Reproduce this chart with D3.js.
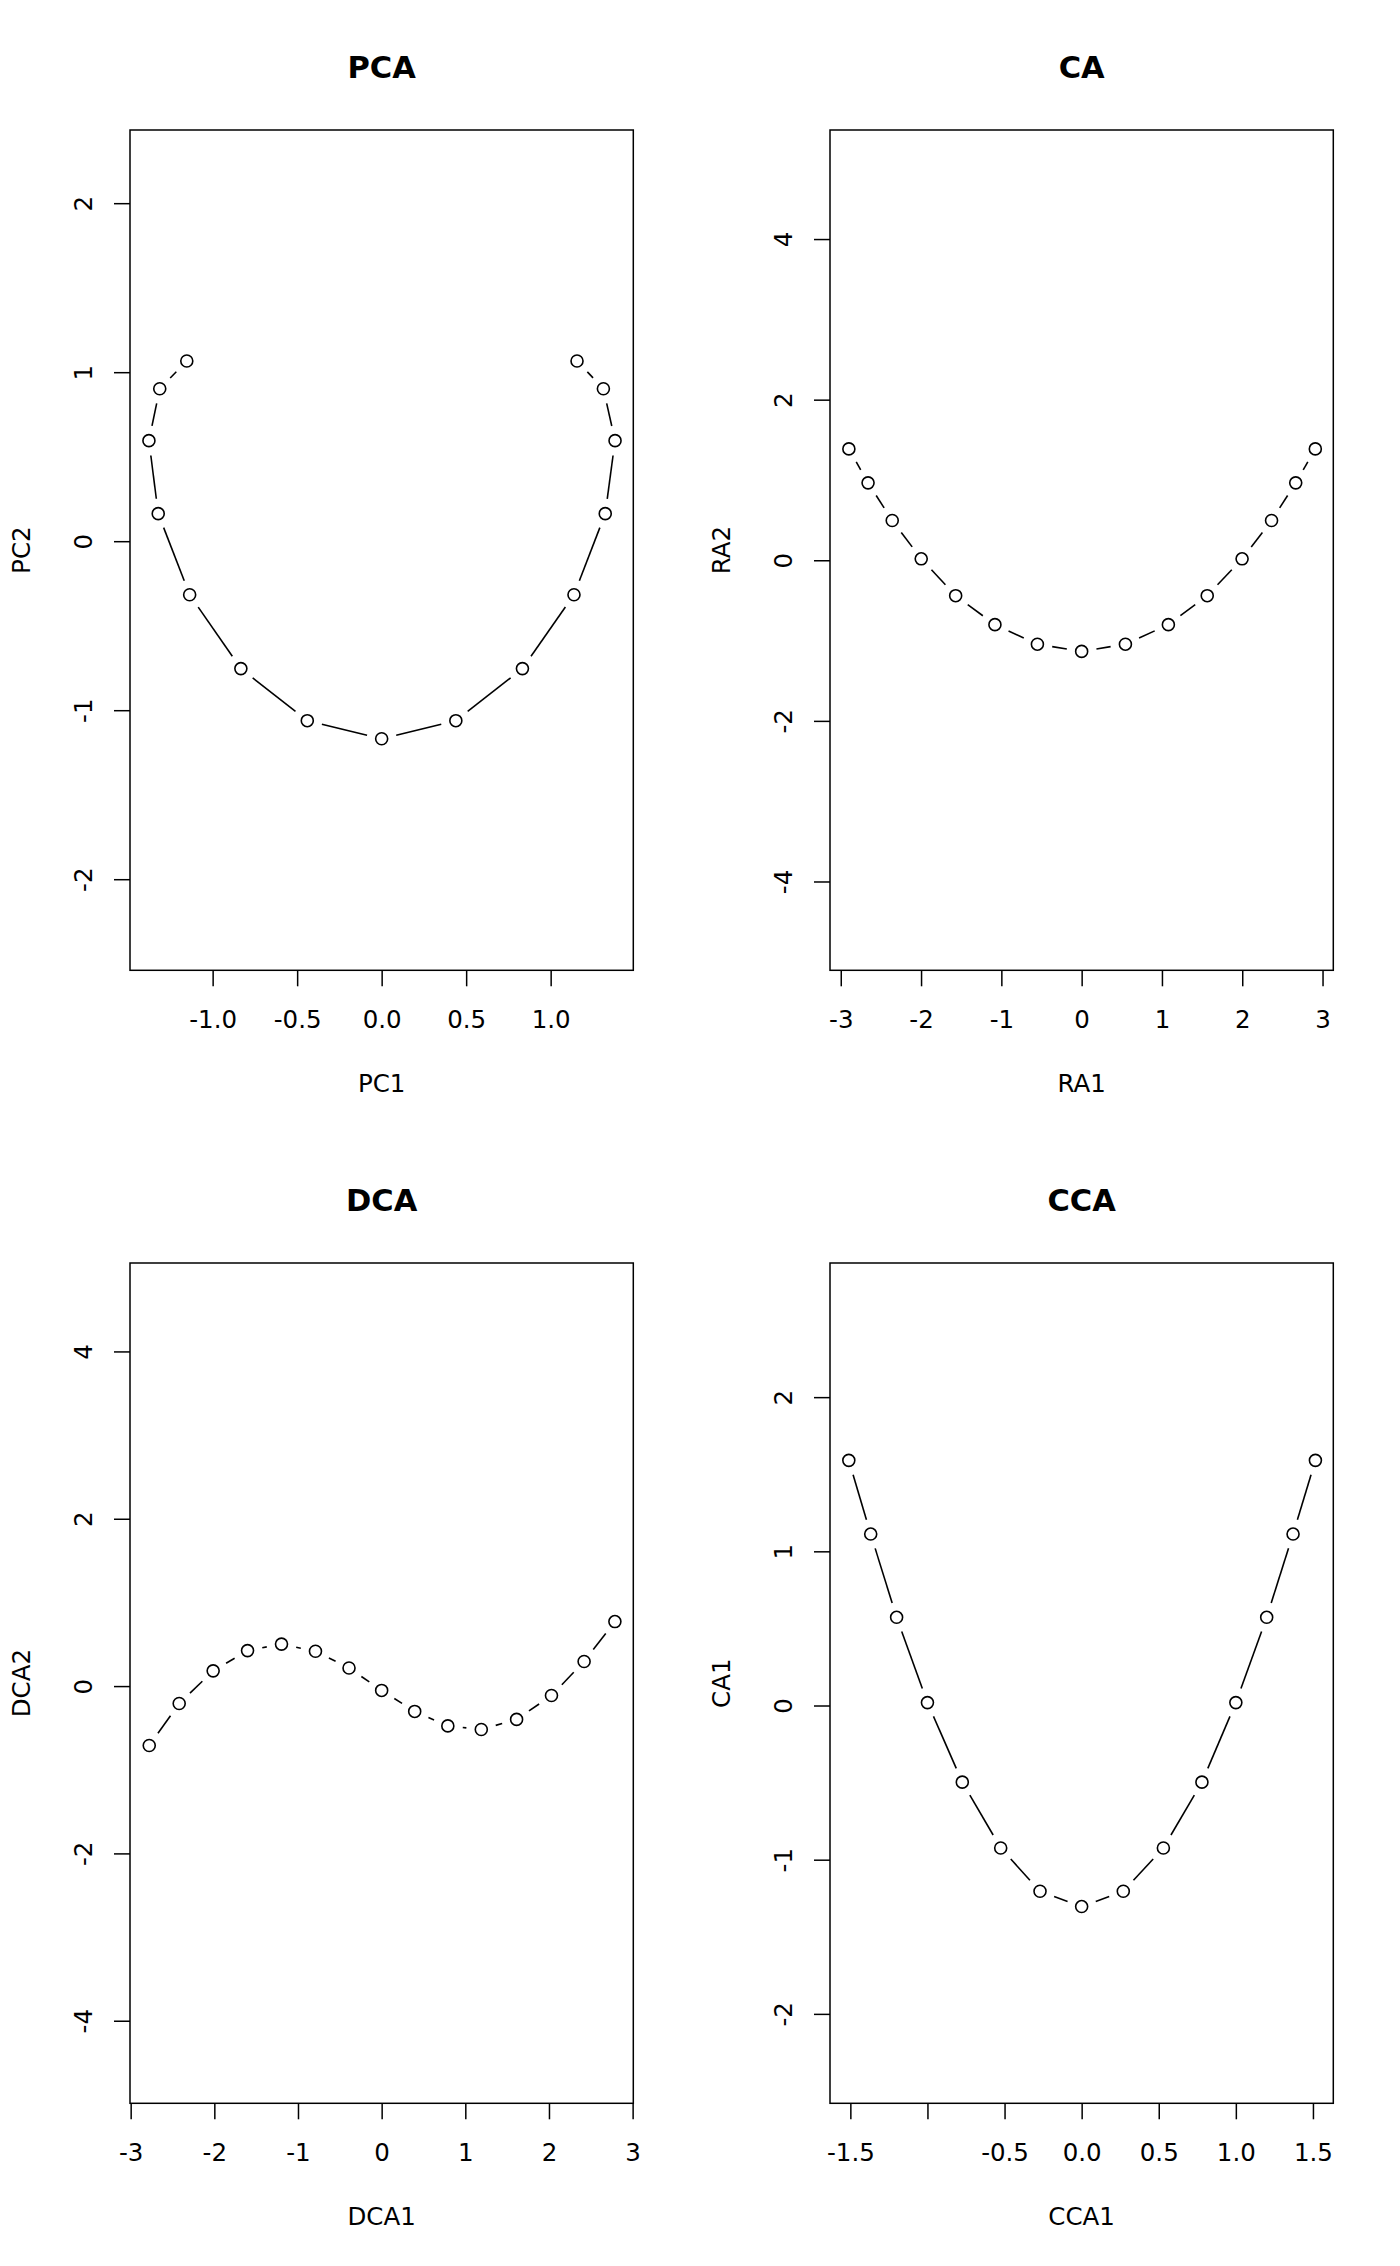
<!DOCTYPE html>
<html>
<head>
<meta charset="utf-8">
<script src="https://cdn.jsdelivr.net/npm/d3@7"></script>
<style>
  body { margin: 0; background: #fff; }
  text { font-family: "DejaVu Sans", sans-serif; fill: #000; }
</style>
</head>
<body>
<div id="chart"></div>
<script>
/* Ordination scores
 * */
var pcaX = [-1.153, -1.313, -1.377, -1.322, -1.136, -0.833, -0.440, 0, 0.439, 0.833, 1.138, 1.323, 1.381, 1.312, 1.156];
var pcaY = [1.066, 0.902, 0.595, 0.163, -0.317, -0.754, -1.062, -1.169, -1.062, -0.754, -0.317, 0.163, 0.595, 0.902, 1.066];

var caX = [-2.899, -2.660, -2.359, -1.998, -1.569, -1.080, -0.551, 0, 0.545, 1.080, 1.564, 1.998, 2.365, 2.666, 2.910];
var caY = [1.387, 0.964, 0.495, 0.018, -0.441, -0.802, -1.045, -1.135, -1.045, -0.802, -0.441, 0.018, 0.495, 0.964, 1.387];

var dcaX = [-2.778, -2.420, -2.014, -1.603, -1.197, -0.791, -0.390, 0, 0.395, 0.791, 1.191, 1.613, 2.030, 2.420, 2.788];
var dcaY = [-0.710, -0.208, 0.182, 0.424, 0.502, 0.416, 0.216, -0.052, -0.303, -0.476, -0.519, -0.398, -0.113, 0.294, 0.771];

var ccaX = [-1.510, -1.368, -1.200, -1.000, -0.774, -0.525, -0.270, 0, 0.270, 0.530, 0.780, 1.000, 1.200, 1.371, 1.516];
var ccaY = [1.590, 1.112, 0.572, 0.019, -0.497, -0.924, -1.205, -1.304, -1.205, -0.924, -0.497, 0.019, 0.572, 1.112, 1.590];

/* Tick values and labels
 * */
var pcaXTicks = [-1.0, -0.5, 0.0, 0.5, 1.0];
var pcaXLabels = ['-1.0', '-0.5', '0.0', '0.5', '1.0'];
var pcaYTicks = [-2, -1, 0, 1, 2];

var caXTicks = [-3, -2, -1, 0, 1, 2, 3];
var caYTicks = [-4, -2, 0, 2, 4];

var dcaXTicks = [-3, -2, -1, 0, 1, 2, 3];
var dcaYTicks = [-4, -2, 0, 2, 4];

var ccaXTicks = [-1.5, -1.0, -0.5, 0.0, 0.5, 1.0, 1.5];
var ccaXLabels = ['-1.5', '', '-0.5', '0.0', '0.5', '1.0', '1.5'];
var ccaYTicks = [-2, -1, 0, 1, 2];

/* Panels: title, axis names, limits (equal aspect) and grid slot
 * */
var panels = [
  { title: 'PCA', xlab: 'PC1',  ylab: 'PC2', x: pcaX, y: pcaY,
    xdom: [-1.489, 1.489], ydom: [-2.539, 2.433],
    xticks: pcaXTicks, xlabels: pcaXLabels, yticks: pcaYTicks, col: 0, row: 0 },
  { title: 'CA',  xlab: 'RA1',  ylab: 'RA2', x: caX, y: caY,
    xdom: [-3.134, 3.134], ydom: [-5.106, 5.358],
    xticks: caXTicks, xlabels: null, yticks: caYTicks, col: 1, row: 0 },
  { title: 'DCA', xlab: 'DCA1', ylab: 'DCA2', x: dcaX, y: dcaY,
    xdom: [-3.008, 3.008], ydom: [-4.987, 5.057],
    xticks: dcaXTicks, xlabels: null, yticks: dcaYTicks, col: 0, row: 1 },
  { title: 'CCA', xlab: 'CCA1', ylab: 'CA1', x: ccaX, y: ccaY,
    xdom: [-1.632, 1.632], ydom: [-2.580, 2.870],
    xticks: ccaXTicks, xlabels: ccaXLabels, yticks: ccaYTicks, col: 1, row: 1 }
];

var svgWidth = 1400;
var svgHeight = 2266;
var cellW = 700;
var cellH = 1133;

// plot region inside each cell
var boxLeft = 130, boxRight = 633.3, boxTop = 130, boxBottom = 970.3;
var tickLen = 16;
var pointR = 6;
var lineGap = 15;
var fontSize = 24.5;

var svg = d3.select('#chart')
  .append('svg')
    .attr('width', svgWidth)
    .attr('height', svgHeight);

svg.append('rect')
  .attr('width', svgWidth)
  .attr('height', svgHeight)
  .attr('fill', '#fff');

/* Draws one panel
 *
 * @param p panel description
 * */
function drawPanel(p) {
  var g = svg.append('g')
    .attr('transform', 'translate(' + (p.col * cellW) + ',' + (p.row * cellH) + ')');

  var x = d3.scaleLinear().domain(p.xdom).range([boxLeft, boxRight]);
  var y = d3.scaleLinear().domain(p.ydom).range([boxBottom, boxTop]);
  var cx = (boxLeft + boxRight) / 2;
  var cy = (boxTop + boxBottom) / 2;

  // Box
  g.append('rect')
    .attr('x', boxLeft)
    .attr('y', boxTop)
    .attr('width', boxRight - boxLeft)
    .attr('height', boxBottom - boxTop)
    .attr('fill', 'none')
    .attr('stroke', '#000')
    .attr('stroke-width', 1.5);

  // X axis
  var xAxis = d3.axisBottom(x)
    .tickValues(p.xticks)
    .tickSize(tickLen)
    .tickPadding(0)
    .tickFormat(function(d, i) {
      return p.xlabels ? p.xlabels[i] : String(d);
    });
  var gx = g.append('g')
    .attr('transform', 'translate(0,' + boxBottom + ')')
    .call(xAxis);
  gx.select('.domain').remove();
  gx.selectAll('line').attr('stroke', '#000').attr('stroke-width', 1.5);
  gx.selectAll('text')
    .attr('y', 57.4)
    .attr('dy', null)
    .attr('font-size', fontSize)
    .attr('font-family', '"DejaVu Sans", sans-serif');

  // Y axis, labels parallel to the axis
  var yAxis = d3.axisLeft(y)
    .tickValues(p.yticks)
    .tickSize(tickLen)
    .tickFormat(function(d) { return String(d); });
  var gy = g.append('g')
    .attr('transform', 'translate(' + boxLeft + ',0)')
    .call(yAxis);
  gy.select('.domain').remove();
  gy.selectAll('line').attr('stroke', '#000').attr('stroke-width', 1.5);
  gy.selectAll('text')
    .attr('x', null)
    .attr('dy', null)
    .attr('text-anchor', 'middle')
    .attr('transform', 'translate(-38.3,0) rotate(-90)')
    .attr('font-size', fontSize)
    .attr('font-family', '"DejaVu Sans", sans-serif');

  // Title and axis names
  g.append('text')
    .attr('x', cx)
    .attr('y', boxTop - 52.3)
    .attr('text-anchor', 'middle')
    .attr('font-size', 30.5)
    .attr('font-weight', 'bold')
    .text(p.title);

  g.append('text')
    .attr('x', cx)
    .attr('y', boxBottom + 122)
    .attr('text-anchor', 'middle')
    .attr('font-size', fontSize)
    .text(p.xlab);

  g.append('text')
    .attr('transform', 'translate(30,' + cy + ') rotate(-90)')
    .attr('text-anchor', 'middle')
    .attr('font-size', fontSize)
    .text(p.ylab);

  // Line segments with gaps round the points (type = "b")
  var pts = p.x.map(function(v, i) { return [x(v), y(p.y[i])]; });
  var segs = [];
  for (var i = 0; i < pts.length - 1; i++) {
    var dx = pts[i + 1][0] - pts[i][0];
    var dy = pts[i + 1][1] - pts[i][1];
    var len = Math.sqrt(dx * dx + dy * dy);
    if (len <= 2 * lineGap)
      continue;
    var ux = dx / len, uy = dy / len;
    segs.push([pts[i][0] + ux * lineGap, pts[i][1] + uy * lineGap,
               pts[i + 1][0] - ux * lineGap, pts[i + 1][1] - uy * lineGap]);
  }

  g.append('g').selectAll('line')
    .data(segs)
    .enter().append('line')
      .attr('x1', function(d) { return d[0]; })
      .attr('y1', function(d) { return d[1]; })
      .attr('x2', function(d) { return d[2]; })
      .attr('y2', function(d) { return d[3]; })
      .attr('stroke', '#000')
      .attr('stroke-width', 1.6);

  // Open circles
  g.append('g').selectAll('circle')
    .data(pts)
    .enter().append('circle')
      .attr('cx', function(d) { return d[0]; })
      .attr('cy', function(d) { return d[1]; })
      .attr('r', pointR)
      .attr('fill', 'none')
      .attr('stroke', '#000')
      .attr('stroke-width', 1.6);
}

panels.forEach(drawPanel);
</script>
</body>
</html>
